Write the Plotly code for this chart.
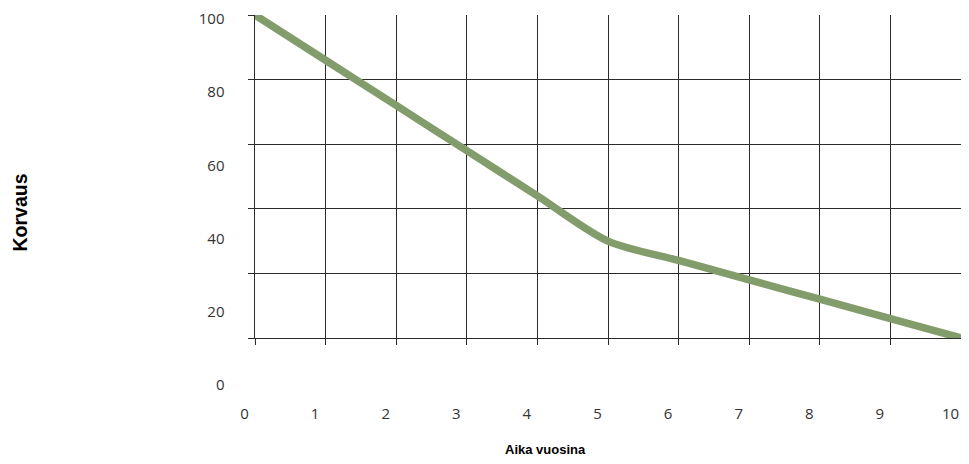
import plotly.graph_objects as go

# ---- data ----
years = [0, 1, 2, 3, 4, 5, 6, 7, 8, 9, 10]
korvaus = [100, 86, 72, 58, 44, 30, 24, 18, 12, 6, 0]
x_ticks = [0, 1, 2, 3, 4, 5, 6, 7, 8, 9, 10]
y_ticks = [0, 20, 40, 60, 80, 100]
x_title = "Aika vuosina"
y_title = "Korvaus"

# ---- layout geometry ----
# The page body has an 8px margin, so the figure starts at (8, 8) in the
# window and is sized to stay inside the visible area; positions below are
# window pixels converted to figure fractions.
OFF = 8
W, H = 969 - 2 * OFF, 464 - 2 * OFF
L, R, T, B = 244, OFF + W, 15, 385      # outer plot region (window pixels)
PW, PH = R - L, B - T

def px_x(p):
    return (p - L) / PW

def px_y(p):
    return (B - p) / PH

GRID_L, GRID_B = 255, 338   # left / bottom grid lines (window px)
LABEL_SHIFT = 10.5          # x tick labels sit left of their grid lines

grid_color = "#2b2b2b"
label_font = dict(family="Open Sans, DejaVu Sans, sans-serif", size=15, color="#333333")
title_family = "Liberation Sans, Arial, sans-serif"

fig = go.Figure()
fig.add_trace(go.Scatter(
    x=years, y=korvaus, mode="lines",
    line=dict(color="#829d6b", width=7.5, shape="spline", smoothing=0.8),
    showlegend=False, hoverinfo="skip",
))
# label-only subplot
fig.add_trace(go.Scatter(x=[], y=[], xaxis="x2", yaxis="y2",
                         showlegend=False, hoverinfo="skip"))

fig.update_layout(
    width=W, height=H,
    margin=dict(l=L - OFF, r=W + OFF - R, t=T - OFF, b=(H + OFF) - B, pad=0, autoexpand=False),
    paper_bgcolor="white", plot_bgcolor="rgba(0,0,0,0)",
    xaxis=dict(
        domain=[px_x(GRID_L), 1], range=[0, 10], anchor="y", automargin=False,
        showgrid=True, gridcolor=grid_color, gridwidth=1, dtick=1, tick0=0,
        showline=True, linecolor=grid_color, linewidth=1, mirror=False,
        ticks="outside", ticklen=6, tickcolor=grid_color,
        showticklabels=False, zeroline=False, fixedrange=True,
    ),
    yaxis=dict(
        domain=[px_y(GRID_B), 1], range=[0, 100], anchor="x", automargin=False,
        showgrid=True, gridcolor=grid_color, gridwidth=1, dtick=20, tick0=0,
        showline=True, linecolor=grid_color, linewidth=1,
        ticks="outside", ticklen=6, tickcolor=grid_color,
        showticklabels=False, zeroline=False, fixedrange=True,
    ),
    xaxis2=dict(
        domain=[px_x(GRID_L - LABEL_SHIFT), px_x(R - LABEL_SHIFT)], range=[0, 10],
        anchor="y2", automargin=False, ticklabeloverflow="allow",
        tickmode="array", tickvals=x_ticks, ticktext=[str(v) for v in x_ticks],
        showgrid=False, showline=False, zeroline=False, ticks="",
        tickfont=label_font, ticklabelstandoff=18, fixedrange=True,
    ),
    yaxis2=dict(
        domain=[0, px_y(19)], range=[0, 100], anchor="x2",
        automargin=False, ticklabeloverflow="allow",
        tickmode="array", tickvals=y_ticks, ticktext=[str(v) for v in y_ticks],
        showgrid=False, showline=False, zeroline=False, ticks="",
        tickfont=label_font, ticklabelstandoff=19, fixedrange=True,
    ),
    annotations=[
        dict(text="<b>" + y_title + "</b>", xref="paper", yref="paper",
             x=px_x(19.5), y=px_y(213),
             textangle=-90, showarrow=False, xanchor="center", yanchor="middle",
             font=dict(family=title_family, size=19.5, color="#000000")),
        dict(text="<b>" + x_title + "</b>", xref="paper", yref="paper",
             x=px_x(545), y=px_y(449),
             showarrow=False, xanchor="center", yanchor="middle",
             font=dict(family=title_family, size=13, color="#000000")),
    ],
)

fig.write_html("out.html")
